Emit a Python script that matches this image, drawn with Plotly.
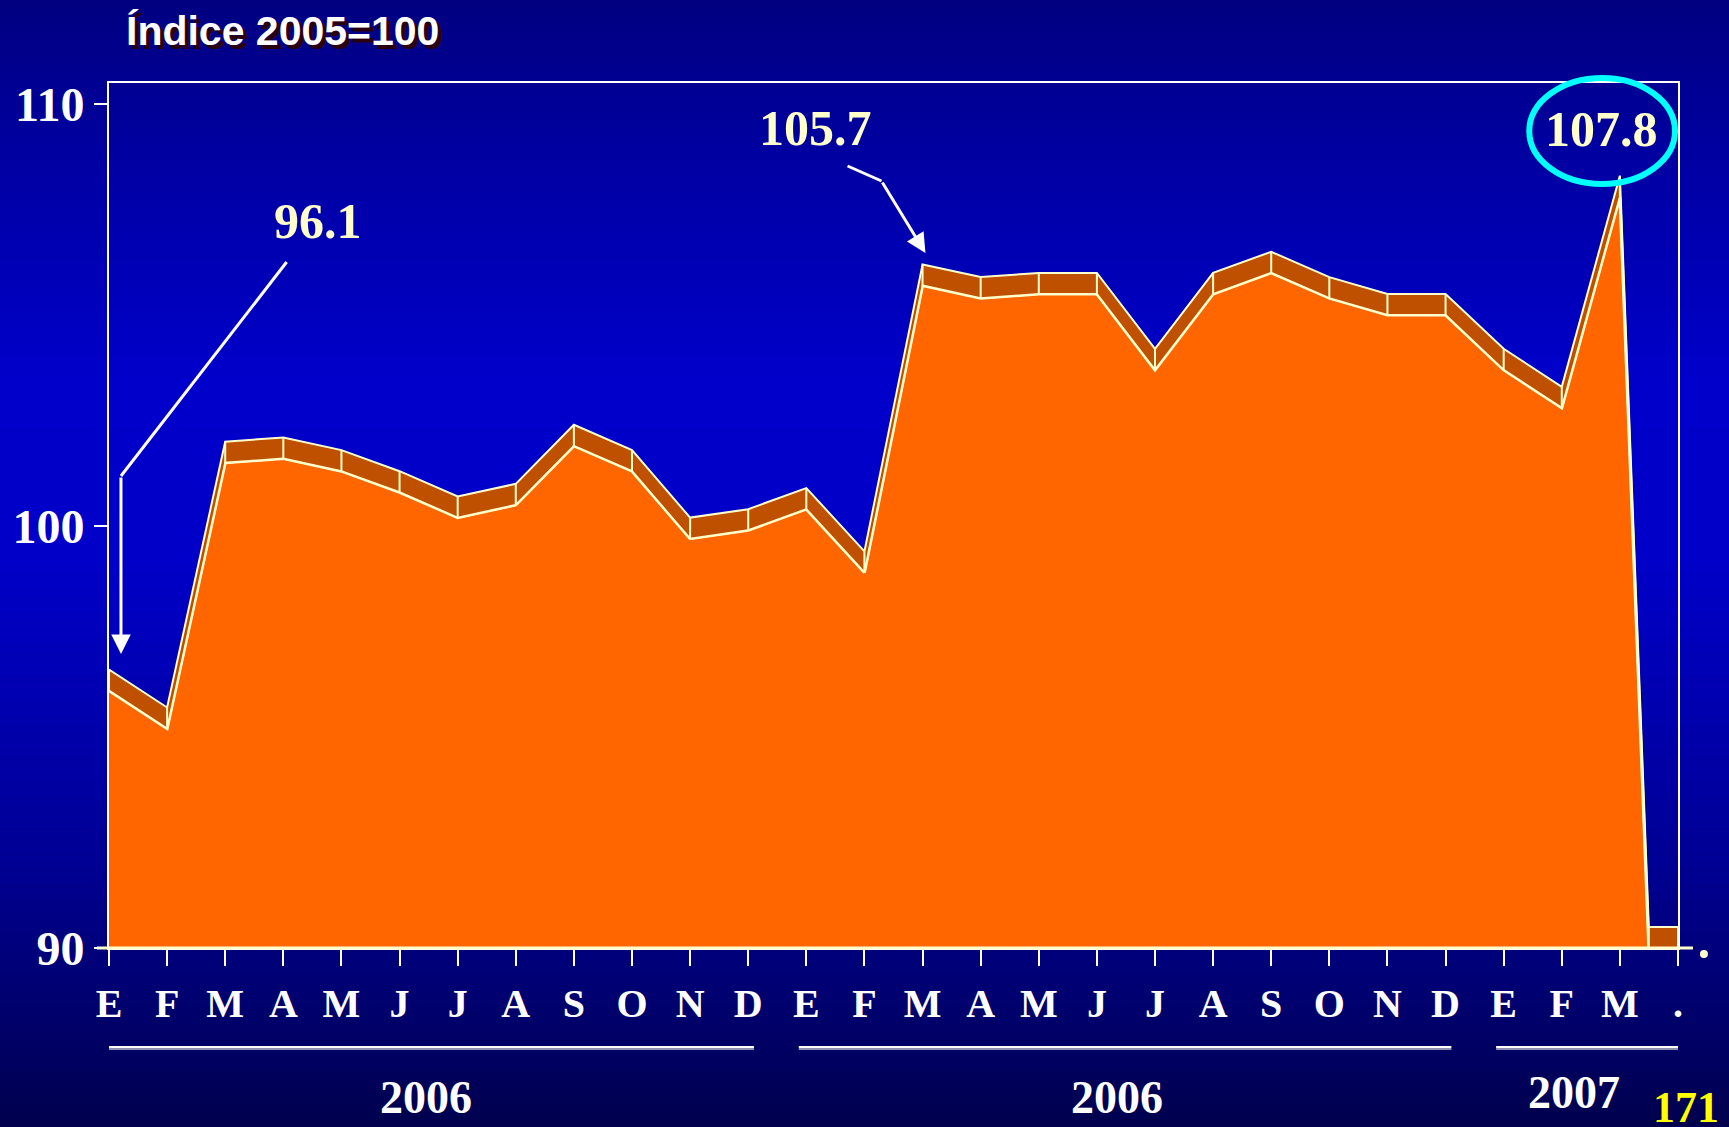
import numpy as np
import plotly.graph_objects as go

# ---------------- data ----------------
months = ["E", "F", "M", "A", "M", "J", "J", "A", "S", "O", "N", "D",
          "E", "F", "M", "A", "M", "J", "J", "A", "S", "O", "N", "D",
          "E", "F", "M", "."]
values = [96.1, 95.2, 101.5, 101.6, 101.3, 100.8, 100.2, 100.5, 101.9, 101.3, 99.7, 99.9,
          100.4, 98.9, 105.7, 105.4, 105.5, 105.5, 103.7, 105.5, 106.0, 105.4, 105.0, 105.0,
          103.7, 102.8, 107.8, 72.0]
years = ["2006", "2006", "2007"]
year_first = [0, 12, 24]
year_last = [11, 23, 27]
y_ticks = [90, 100, 110]
callout_idx = [0, 14, 26]
title_text = "Índice 2005=100"
page_no = "171"

# ---------------- geometry / style ----------------
W, H = 1729, 1127
L, R, T, B = 106, 1678, 83, 948
DEPTH = 0.5
ORANGE = "#FF6600"
DARK_ORANGE = "#BF5000"
CREAM = "#FFFFCC"
SERIF = "Liberation Serif, Times New Roman, serif"
SANS = "Liberation Sans, Arial, sans-serif"
FLOOR = y_ticks[0]


def px(x):
    return (x - L) / (R - L)


def py(y):
    return (B - y) / (B - T)


x = np.arange(len(values))
v = np.array(values)
top = v + DEPTH

fig = go.Figure()

# front face
fig.add_trace(go.Scatter(x=x, y=v, mode="lines", fill="tozeroy", fillcolor=ORANGE,
                         line=dict(color=CREAM, width=3), hoverinfo="skip", showlegend=False))
# top band (3D depth)
fig.add_trace(go.Scatter(x=np.concatenate([x, x[::-1]]), y=np.concatenate([top, v[::-1]]),
                         mode="lines", fill="toself", fillcolor=DARK_ORANGE,
                         line=dict(color=CREAM, width=2), hoverinfo="skip", showlegend=False))
# vertical edges of band
ex, ey = [], []
for xi, vi, ti in zip(x, v, top):
    ex += [xi, xi, None]
    ey += [vi, ti, None]
fig.add_trace(go.Scatter(x=ex, y=ey, mode="lines", line=dict(color=CREAM, width=2),
                         hoverinfo="skip", showlegend=False))

# band lying on the floor after the last drop
x_cross = x[-2] + (v[-2] - FLOOR) / (v[-2] - v[-1])
fig.add_trace(go.Scatter(x=[x_cross, x[-1], x[-1], x_cross, x_cross],
                         y=[FLOOR, FLOOR, FLOOR + DEPTH, FLOOR + DEPTH, FLOOR],
                         mode="lines", fill="toself", fillcolor=DARK_ORANGE,
                         line=dict(color=CREAM, width=2), hoverinfo="skip", showlegend=False))

shapes = []
# background gradient
stops = [(0, (0, 0, 128)), (150, (0, 0, 160)), (380, (0, 0, 202)), (560, (0, 0, 200)),
         (850, (0, 0, 150)), (1127, (0, 0, 78))]
N = 140
for i in range(N):
    y0 = i * H / N
    y1 = (i + 1) * H / N + 1
    ym = (y0 + y1) / 2
    for (a, ca), (b, cb) in zip(stops[:-1], stops[1:]):
        if a <= ym <= b:
            t = (ym - a) / (b - a)
            c = tuple(int(round(ca[k] + (cb[k] - ca[k]) * t)) for k in range(3))
            break
    else:
        c = stops[-1][1]
    shapes.append(dict(type="rect", xref="paper", yref="paper", layer="below",
                       x0=px(-5), x1=px(W + 5), y0=py(y0), y1=py(y1),
                       fillcolor=f"rgb{c}", line=dict(width=0)))

# cream floor line
shapes.append(dict(type="line", xref="paper", yref="paper", x0=px(94), x1=px(1693),
                   y0=0, y1=0, line=dict(color=CREAM, width=3), layer="above"))
# dot at the right
shapes.append(dict(type="circle", xref="paper", yref="paper", x0=px(1700), x1=px(1708),
                   y0=py(958), y1=py(950), fillcolor=CREAM, line=dict(width=0)))

# year underlines and labels
annotations = []
year_label_px = [(424, 1097), (1116, 1097), (1574, 1092)]
for yr, f, l, (lx, ly) in zip(years, year_first, year_last, year_label_px):
    x0 = max(f - 0.13, 0)
    x1 = min(l + 0.1, len(values) - 1)
    shapes.append(dict(type="line", xref="x", yref="paper", x0=x0, x1=x1,
                       y0=py(1049), y1=py(1049), line=dict(color="#9090b0", width=2)))
    shapes.append(dict(type="line", xref="x", yref="paper", x0=x0, x1=x1,
                       y0=py(1047), y1=py(1047), line=dict(color="white", width=2)))
    annotations.append(dict(x=px(lx), y=py(ly), xref="paper", yref="paper", text=yr,
                            showarrow=False,
                            font=dict(family=SERIF, size=46, color="white", weight="bold"),
                            xanchor="center", yanchor="middle"))

# callout ellipse
shapes.append(dict(type="circle", xref="paper", yref="paper", x0=px(1529), x1=px(1675),
                   y0=py(184), y1=py(78), line=dict(color="#00FFFF", width=6)))

# callout leader lines
shapes.append(dict(type="line", xref="paper", yref="paper", x0=px(284), y0=py(262),
                   x1=px(118), y1=py(476), line=dict(color="white", width=3)))
shapes.append(dict(type="line", xref="paper", yref="paper", x0=px(846), y0=py(166),
                   x1=px(880), y1=py(181), line=dict(color="white", width=3)))

# arrows
annotations.append(dict(x=px(118), y=py(654), xref="paper", yref="paper", ax=0, ay=-178,
                        text="", showarrow=True, arrowhead=2, arrowsize=1.3, arrowwidth=3,
                        arrowcolor="white"))
annotations.append(dict(x=px(924), y=py(253), xref="paper", yref="paper", ax=-44, ay=-72,
                        text="", showarrow=True, arrowhead=2, arrowsize=1.3, arrowwidth=3,
                        arrowcolor="white"))

# callout labels
callout_pos = [(315, 221), (814, 128), (1601, 129)]
for i, (cx, cy) in zip(callout_idx, callout_pos):
    annotations.append(dict(x=px(cx), y=py(cy), xref="paper", yref="paper",
                            text=f"{values[i]:.1f}", showarrow=False,
                            font=dict(family=SERIF, size=50, color=CREAM, weight="bold"),
                            xanchor="center", yanchor="middle"))

# title with shadow
for dx, col in [(4, "#2a0010"), (0, "white")]:
    annotations.append(dict(x=px(121 + dx), y=py(31 + dx), xref="paper", yref="paper",
                            text=title_text, showarrow=False,
                            font=dict(family=SANS, size=41, color=col, weight="bold"),
                            xanchor="left", yanchor="middle"))

# page number
annotations.append(dict(x=px(1686), y=py(1107), xref="paper", yref="paper", text=page_no,
                        showarrow=False,
                        font=dict(family=SERIF, size=44, color="#FFFF00", weight="bold"),
                        xanchor="center", yanchor="middle"))

fig.update_layout(
    width=W, height=H,
    margin=dict(l=L, r=W - R, t=T, b=H - B, pad=0),
    paper_bgcolor="#000080", plot_bgcolor="rgba(0,0,0,0)",
    shapes=shapes, annotations=annotations, showlegend=False,
    xaxis=dict(range=[0, len(values) - 1], tickvals=list(x), ticktext=months,
               showgrid=False, zeroline=False, ticks="outside", ticklen=16, tickwidth=2,
               tickcolor="white", ticklabelstandoff=3,
               tickfont=dict(family=SERIF, size=40, color="white", weight="bold"),
               showline=True, linecolor="white", linewidth=2, mirror=True),
    yaxis=dict(range=[90, 110.5], tickvals=y_ticks, showgrid=False, zeroline=False,
               ticks="outside", ticklen=13, tickwidth=2, tickcolor="white",
               tickfont=dict(family=SERIF, size=48, color="white", weight="bold"),
               showline=True, linecolor="white", linewidth=2, mirror=True),
)

fig.write_html("out.html", config={"displayModeBar": False},
               post_script="document.body.style.margin='0';document.body.style.overflow='hidden';")
